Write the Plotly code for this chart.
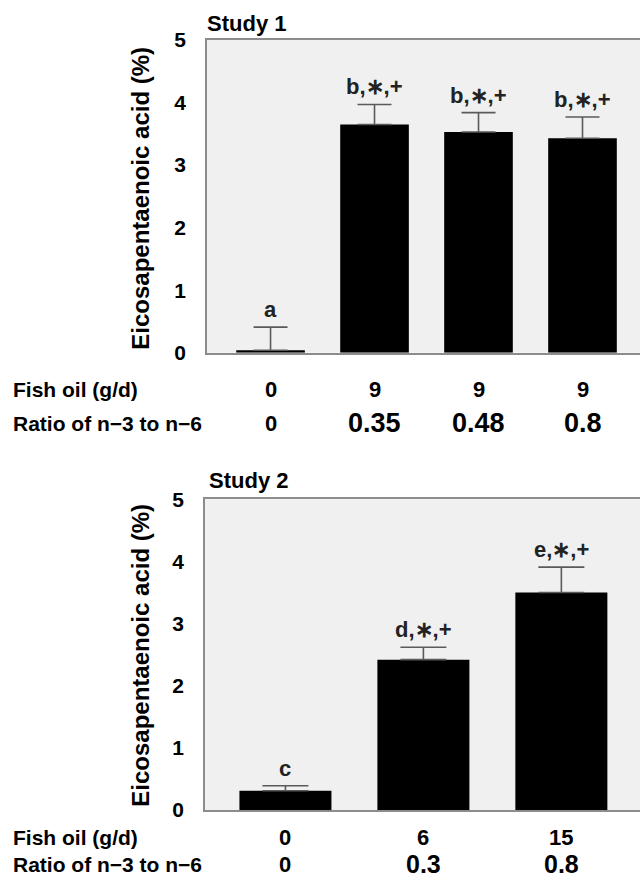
import plotly.graph_objects as go

# ---------------- data ----------------
s1_fish_oil = ["0", "9", "9", "9"]
s1_ratio = ["0", "0.35", "0.48", "0.8"]
s1_epa = [0.04, 3.65, 3.53, 3.43]
s1_sem = [0.37, 0.32, 0.31, 0.34]
s1_letters = ["a", "b,∗,+", "b,∗,+", "b,∗,+"]

s2_fish_oil = ["0", "6", "15"]
s2_ratio = ["0", "0.3", "0.8"]
s2_epa = [0.31, 2.42, 3.50]
s2_sem = [0.08, 0.20, 0.41]
s2_letters = ["c", "d,∗,+", "e,∗,+"]

y_ticks = [0, 1, 2, 3, 4, 5]
y_title = "Eicosapentaenoic acid (%)"
row1_label = "Fish oil (g/d)"
row2_label = "Ratio of n−3 to n−6"

W, H = 640, 889
FONT = "Liberation Sans, Arial, Helvetica, sans-serif"


def pp(page):
    # page row -> paper coordinate
    return 1 - page / H


def py(px):
    # target picture row -> paper coordinate
    return pp((px - 12.7) / 0.972)


fig = go.Figure()

x1 = list(range(len(s1_epa)))
x2 = list(range(len(s2_epa)))

fig.add_trace(go.Bar(
    x=x1, y=s1_epa, width=0.66, marker=dict(color="black", line=dict(width=0)),
    error_y=dict(type="data", symmetric=False, array=s1_sem, arrayminus=[0] * len(s1_sem),
                 color="#5a5a5a", thickness=1.6, width=17),
    xaxis="x", yaxis="y", showlegend=False))

fig.add_trace(go.Bar(
    x=x2, y=s2_epa, width=0.667, marker=dict(color="black", line=dict(width=0)),
    error_y=dict(type="data", symmetric=False, array=s2_sem, arrayminus=[0] * len(s2_sem),
                 color="#5a5a5a", thickness=1.6, width=23),
    xaxis="x2", yaxis="y2", showlegend=False))

axis_common = dict(showgrid=False, zeroline=False, linecolor="#8c8c8c", linewidth=1.6)
tickfont = dict(size=21, family=FONT, weight="bold", color="black")

fig.update_layout(
    width=W, height=H,
    margin=dict(l=0, r=0, t=0, b=0),
    paper_bgcolor="white",
    plot_bgcolor="#f0f0f0",
    font=dict(family=FONT, color="black"),
    xaxis=dict(domain=[207 / W, 1], range=[-0.611, 3.553], showticklabels=False,
               ticks="", mirror=True, showline=True, anchor="y", **axis_common),
    yaxis=dict(domain=[py(352.7), py(40.7)], range=[0, 5], tickvals=y_ticks,
               ticks="", ticklabelstandoff=15, showline=True, anchor="x",
               tickfont=tickfont, **axis_common),
    xaxis2=dict(domain=[205 / W, 1], range=[-0.583, 2.570], showticklabels=False,
                ticks="", mirror=True, showline=True, anchor="y2", **axis_common),
    yaxis2=dict(domain=[py(809), py(499)], range=[0, 5], tickvals=y_ticks,
                ticks="", ticklabelstandoff=15, showline=True, anchor="x2",
                tickfont=tickfont, **axis_common),
)

ann = []
bold = dict(family=FONT, weight="bold", color="black")

# panel titles
ann.append(dict(text="Study 1", x=205 / W, y=py(24), xref="paper", yref="paper",
                xanchor="left", yanchor="middle", showarrow=False, font=dict(size=22, **bold)))
ann.append(dict(text="Study 2", x=207 / W, y=py(480), xref="paper", yref="paper",
                xanchor="left", yanchor="middle", showarrow=False, font=dict(size=22, **bold)))

# y titles
ann.append(dict(text=y_title, x=141 / W, y=py(199), xref="paper", yref="paper",
                textangle=-90, xanchor="center", yanchor="middle", showarrow=False,
                font=dict(size=24, **bold)))
ann.append(dict(text=y_title, x=141 / W, y=py(655), xref="paper", yref="paper",
                textangle=-90, xanchor="center", yanchor="middle", showarrow=False,
                font=dict(size=24, **bold)))

# row positions (paper coords)
r1_top, r2_top = py(389), py(423)
r1_bot, r2_bot = pp(847), pp(875)

for yy in (r1_top, r1_bot):
    ann.append(dict(text=row1_label, x=12 / W, y=yy, xref="paper", yref="paper",
                    xanchor="left", yanchor="middle", showarrow=False, borderpad=0,
                    font=dict(size=21, **bold)))
for yy in (r2_top, r2_bot):
    ann.append(dict(text=row2_label, x=12 / W, y=yy, xref="paper", yref="paper",
                    xanchor="left", yanchor="middle", showarrow=False, borderpad=0,
                    font=dict(size=21, **bold)))

# category values
for i, (f, r) in enumerate(zip(s1_fish_oil, s1_ratio)):
    ann.append(dict(text=f, x=i, y=r1_top, xref="x", yref="paper", xanchor="center",
                    yanchor="middle", showarrow=False, borderpad=0, font=dict(size=22, **bold)))
    ann.append(dict(text=r, x=i, y=r2_top, xref="x", yref="paper", xanchor="center",
                    yanchor="middle", showarrow=False, borderpad=0,
                    font=dict(size=22 if i == 0 else 27, **bold)))
for i, (f, r) in enumerate(zip(s2_fish_oil, s2_ratio)):
    ann.append(dict(text=f, x=i, y=r1_bot, xref="x2", yref="paper", xanchor="center",
                    yanchor="middle", showarrow=False, borderpad=0, font=dict(size=22, **bold)))
    ann.append(dict(text=r, x=i, y=r2_bot, xref="x2", yref="paper", xanchor="center",
                    yanchor="middle", showarrow=False, borderpad=0,
                    font=dict(size=22 if i == 0 else 25, **bold)))

# significance letters
letter_font = dict(size=22, family=FONT, weight="bold", color="#222222")
for i, (v, e, t) in enumerate(zip(s1_epa, s1_sem, s1_letters)):
    ann.append(dict(text=t, x=i, y=v + e, xref="x", yref="y", xanchor="center",
                    yanchor="bottom", yshift=3, showarrow=False, font=letter_font))
for i, (v, e, t) in enumerate(zip(s2_epa, s2_sem, s2_letters)):
    ann.append(dict(text=t, x=i, y=v + e, xref="x2", yref="y2", xanchor="center",
                    yanchor="bottom", yshift=3, showarrow=False, font=letter_font))

fig.update_layout(annotations=ann)

fig.write_html(
    "out.html",
    config={"displayModeBar": False},
    post_script="document.body.style.margin='0';document.body.style.overflow='hidden';",
)
